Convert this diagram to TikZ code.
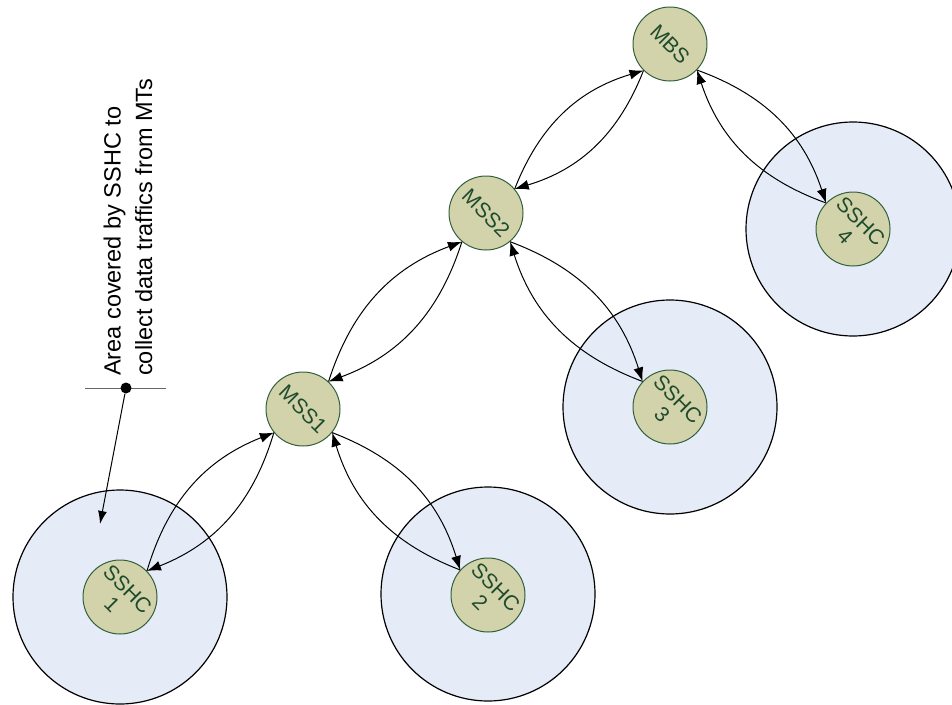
\documentclass[tikz,border=0pt]{standalone}
\usepackage{fontspec}
\setmainfont{Liberation Sans}
\usetikzlibrary{arrows.meta}
\definecolor{nodefill}{RGB}{210,211,171}
\definecolor{nodeedge}{RGB}{50,95,60}
\definecolor{nodetext}{RGB}{30,75,45}
\definecolor{areafill}{RGB}{230,236,247}
\tikzset{
  area/.style={circle, draw=black, line width=1.2pt, fill=areafill, minimum size=214pt, inner sep=0pt},
  station/.style={circle, draw=nodeedge, line width=1pt, fill=nodefill, minimum size=74pt, inner sep=0pt},
  slabel/.style={rotate=-45, align=center, inner sep=0pt, text=nodetext,
    font=\fontsize{21}{22}\selectfont},
  link/.style={line width=1pt, -{Latex[length=14pt,width=10pt]}, bend left=26},
}
\begin{document}
\begin{tikzpicture}[x=1pt,y=-1pt]
\useasboundingbox (0,0) rectangle (952,704);
\clip (0,0) rectangle (952,704);
% coverage areas
\node[area] (a1) at (120,597) {};
\node[area] (a2) at (488,594) {};
\node[area] (a3) at (670,407) {};
\node[area] (a4) at (853,229) {};
% stations
\node[station] (mbs) at (670,44) {};
\node[station] (mss2) at (486,213) {};
\node[station] (mss1) at (303,409) {};
\node[station] (s1) at (120,597) {};
\node[station] (s2) at (488,595) {};
\node[station] (s3) at (670,407) {};
\node[station] (s4) at (853,229) {};
\node[slabel] (mbsl) at (mbs) {MBS};
\node[slabel] (mss2l) at (mss2) {MSS2};
\node[slabel] (mss1l) at (mss1) {MSS1};
\node[slabel] (s1l) at (s1) {SSHC\\1};
\node[slabel] (s2l) at (s2) {SSHC\\2};
\node[slabel] (s3l) at (s3) {SSHC\\3};
\node[slabel] (s4l) at (s4) {SSHC\\4};
% links
\draw[link] (mss2.40) to (mbs.225);
\draw[link] (mbs.225) to (mss2.40);
\draw[link] (mss1.47) to (mss2.230);
\draw[link] (mss2.230) to (mss1.47);
\draw[link] (s1.44) to (mss1.219);
\draw[link] (mss1.219) to (s1.44);
\draw[link] (mss1.321) to (s2.138);
\draw[link] (s2.138) to (mss1.321);
\draw[link] (mss2.310) to (s3.137);
\draw[link] (s3.137) to (mss2.310);
\draw[link] (mbs.316) to (s4.136);
\draw[link] (s4.136) to (mbs.316);
% annotation
\coordinate (hl) at (85,388);
\coordinate (hr) at (166,388);
\draw[line width=1pt, black!60] (hl) -- (hr);
\node[circle, fill=black, minimum size=11pt, inner sep=0pt] (dot) at (126,388) {};
\coordinate (tip) at (100,524);
\draw[line width=1pt, -{Latex[length=13pt,width=9pt]}] (dot) -- (tip);
\node[rotate=90, anchor=west, align=left, inner sep=0pt,
  font=\fontsize{23.5}{31.5}\selectfont] (note) at (128,376)
  {Area covered by SSHC to\\collect data traffics from MTs};
\end{tikzpicture}
\end{document}
